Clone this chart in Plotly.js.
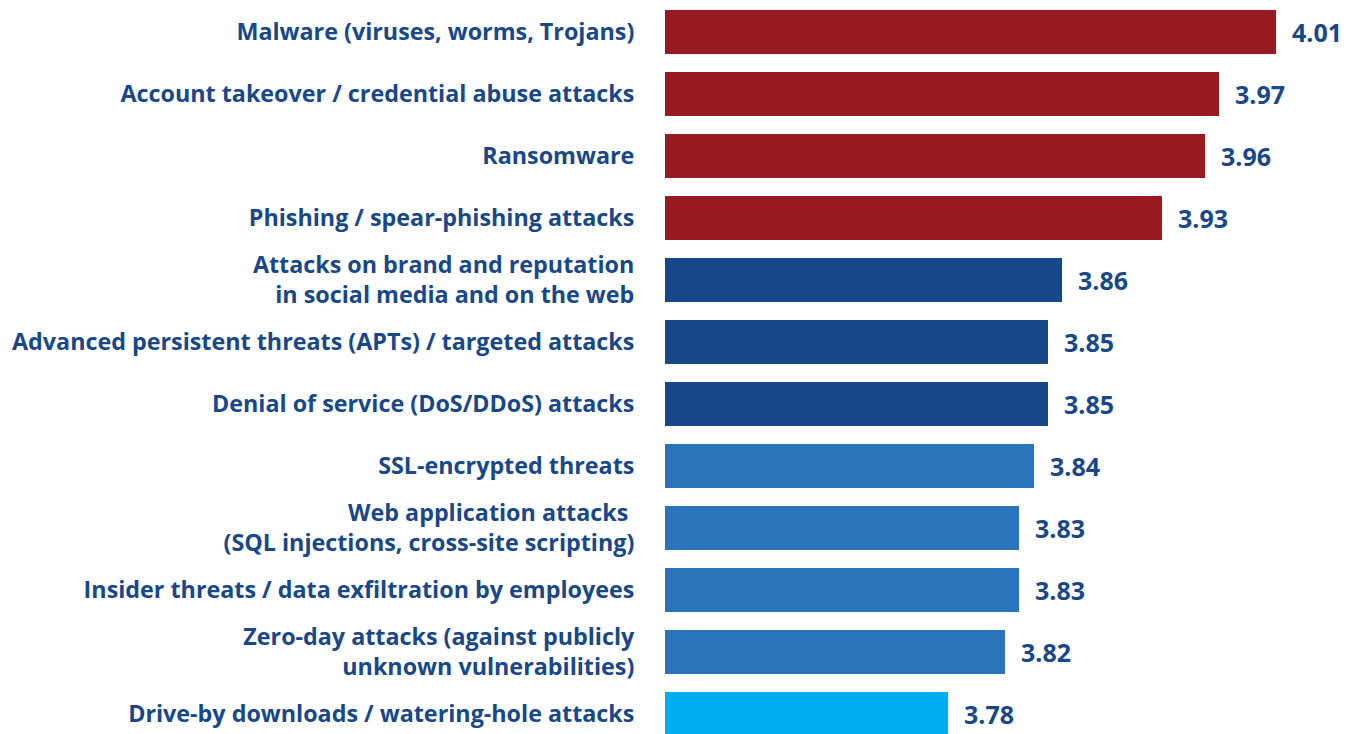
<!DOCTYPE html>
<html>
<head>
<meta charset="utf-8">
<script src="https://cdn.plot.ly/plotly-3.0.1.min.js"></script>
<style>
html,body{margin:0;padding:0;background:#fff;}
#chart{width:1352px;height:734px;}
</style>
</head>
<body>
<div id="chart"></div>
<script>
var categories = [
  "Malware (viruses, worms, Trojans)",
  "Account takeover / credential abuse attacks",
  "Ransomware",
  "Phishing / spear-phishing attacks",
  "Attacks on brand and reputation<br>in social media and on the web",
  "Advanced persistent threats (APTs) / targeted attacks",
  "Denial of service (DoS/DDoS) attacks",
  "SSL-encrypted threats",
  "Web application attacks <br>(SQL injections, cross-site scripting)",
  "Insider threats / data exfiltration by employees",
  "Zero-day attacks (against publicly<br>unknown vulnerabilities)",
  "Drive-by downloads / watering-hole attacks"
];
var scores = [4.01, 3.97, 3.96, 3.93, 3.86, 3.85, 3.85, 3.84, 3.83, 3.83, 3.82, 3.78];
var valueLabels = ["4.01", "3.97", "3.96", "3.93", "3.86", "3.85", "3.85", "3.84", "3.83", "3.83", "3.82", "3.78"];

var RED = "#961a1f", DARK = "#17488a", MID = "#2a74bb", LIGHT = "#00aeef";
var barColors = [RED, RED, RED, RED, DARK, DARK, DARK, MID, MID, MID, MID, LIGHT];
var textColor = "#18478a";
var fontFam = "'Open Sans', 'DejaVu Sans', sans-serif";

var ids = categories.map(function(c, i){ return i; });

var trace = {
  type: "bar",
  orientation: "h",
  y: ids,
  x: scores,
  width: 0.71,
  marker: {color: barColors, line: {width: 0}},
  hoverinfo: "skip"
};

var annotations = scores.map(function(v, i){
  return {
    x: v, y: ids[i], xref: "x", yref: "y",
    text: valueLabels[i], showarrow: false,
    xanchor: "left", yanchor: "middle", xshift: 14, yshift: 0,
    font: {family: fontFam, size: 25, color: textColor, weight: 700}
  };
});

var layout = {
  width: 1352, height: 734,
  margin: {l: 665, r: 0, t: 0, b: 0, pad: 0},
  paper_bgcolor: "#fff", plot_bgcolor: "#fff",
  showlegend: false,
  bargap: 0,
  xaxis: {
    range: [3.5816, 4.0633],
    showgrid: false, zeroline: false, showline: false,
    showticklabels: false, ticks: ""
  },
  yaxis: {
    range: [11.323, -0.516],
    tickmode: "array",
    tickvals: ids,
    ticktext: categories,
    showgrid: false, zeroline: false, showline: false,
    ticks: "outside", ticklen: 25, tickcolor: "rgba(0,0,0,0)",
    tickfont: {family: fontFam, size: 23.3, color: textColor, weight: 700}
  },
  annotations: annotations
};

Plotly.newPlot("chart", [trace], layout, {displayModeBar: false, staticPlot: true});
</script>
</body>
</html>
